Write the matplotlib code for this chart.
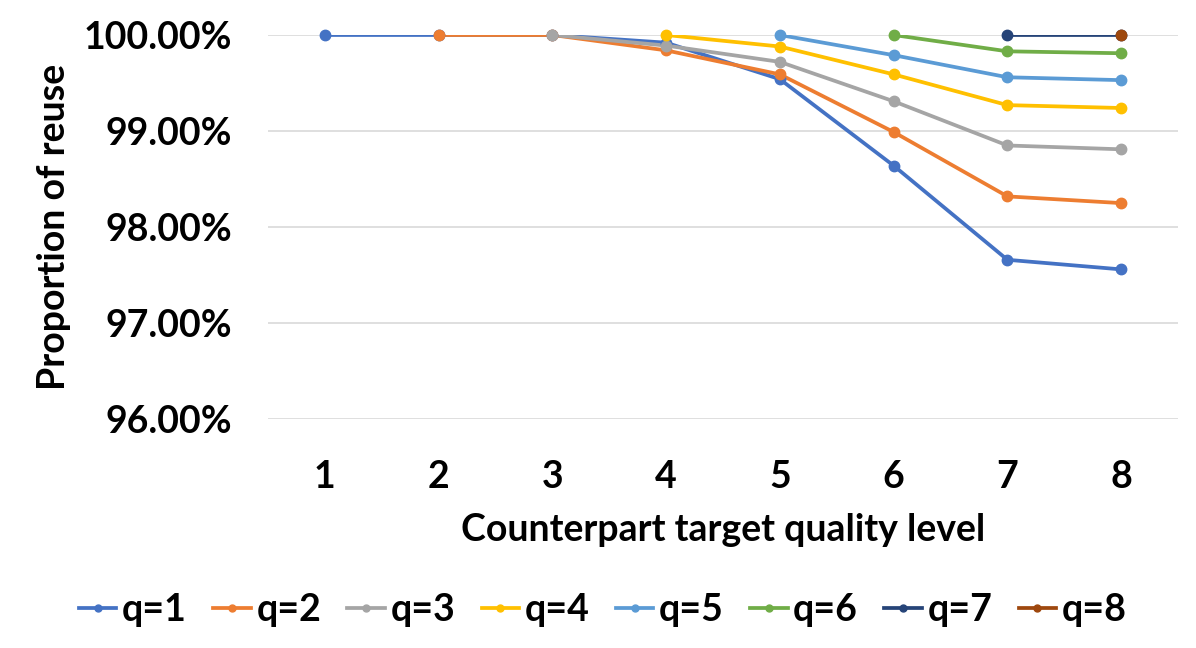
import matplotlib
matplotlib.use('Agg')
import matplotlib.pyplot as plt
from matplotlib.ticker import PercentFormatter, MultipleLocator

plt.rcParams['font.family'] = ['Lato', 'DejaVu Sans']
plt.rcParams['font.weight'] = 'bold'

levels = [1, 2, 3, 4, 5, 6, 7, 8]
labels = ['q=1', 'q=2', 'q=3', 'q=4', 'q=5', 'q=6', 'q=7', 'q=8']
colors = ['#4472C4', '#ED7D31', '#A5A5A5', '#FFC000',
          '#5B9BD5', '#70AD47', '#264478', '#9E480E']

# proportion of reuse (%), series q starts at level q
q1 = [100.0, 100.0, 100.0, 99.92, 99.54, 98.64, 97.66, 97.56]
q2 = [100.0, 100.0, 99.84, 99.59, 98.99, 98.32, 98.25]
q3 = [100.0, 99.89, 99.72, 99.31, 98.85, 98.81]
q4 = [100.0, 99.88, 99.59, 99.27, 99.24]
q5 = [100.0, 99.79, 99.56, 99.53]
q6 = [100.0, 99.83, 99.81]
q7 = [100.0, 100.0]
q8 = [100.0]
series = [q1, q2, q3, q4, q5, q6, q7, q8]

fig = plt.figure(figsize=(11.96, 6.48), dpi=100)
ax = fig.add_axes([0.224, 0.353, 0.761, 0.593])

for i, vals in enumerate(series):
    xs = levels[i:]
    ax.plot(xs, vals, color=colors[i], lw=2.7, solid_capstyle='round', zorder=3)
    ax.plot(xs, vals, ls='none', marker='o', ms=7.5, color=colors[i],
            clip_on=False, zorder=4)
    # legend proxy
    ax.plot([], [], color=colors[i], lw=2.7, marker='o', ms=5, label=labels[i])

ax.set_xlim(0.5, 8.5)
ax.set_ylim(96, 100)
ax.set_xticks(levels)
ax.yaxis.set_major_locator(MultipleLocator(1))
ax.yaxis.set_major_formatter(PercentFormatter(decimals=2))
ax.grid(axis='y', color='#D9D9D9', lw=1.2)
ax.set_axisbelow(True)
for s in ax.spines.values():
    s.set_visible(False)
ax.tick_params(length=0, labelsize=27)
ax.tick_params(axis='y', pad=26)
ax.tick_params(axis='x', pad=29)

ax.set_xlabel('Counterpart target quality level', fontsize=27, fontweight='bold', labelpad=14)
ax.set_ylabel('Proportion of reuse', fontsize=27, fontweight='bold', labelpad=9)

ax.legend(loc='upper center', bbox_to_anchor=(0.368, -0.365), ncol=8, frameon=False,
          fontsize=27, handlelength=1.0, handletextpad=0.15, columnspacing=0.7)

fig.savefig('out.png', dpi=100)
